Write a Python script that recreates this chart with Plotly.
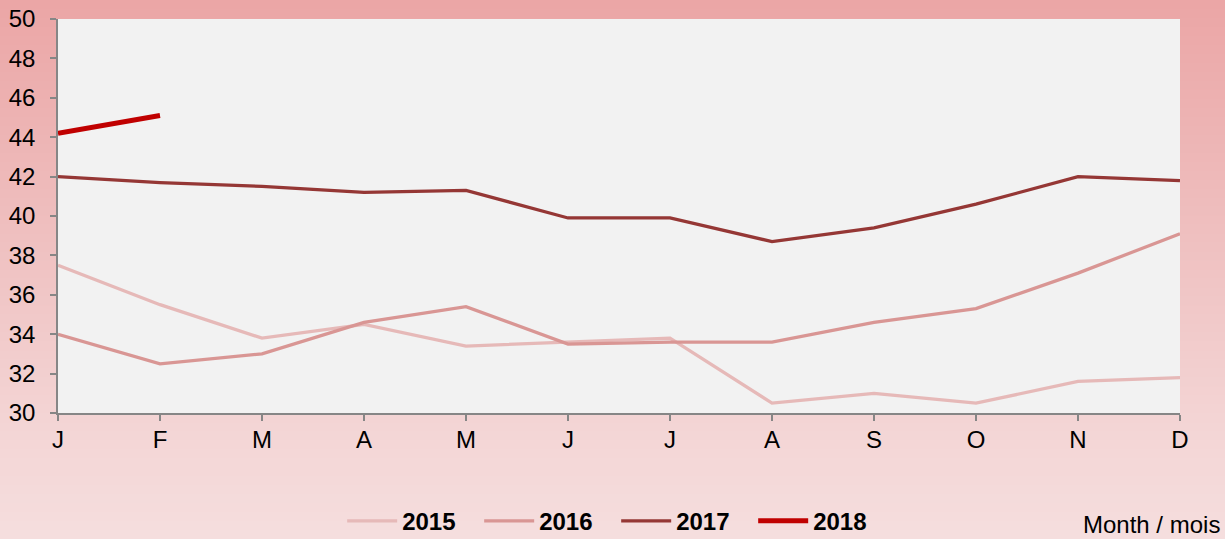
import plotly.graph_objects as go

months = ["J", "F", "M", "A", "M", "J", "J", "A", "S", "O", "N", "D"]
y2015 = [37.5, 35.5, 33.8, 34.5, 33.4, 33.6, 33.8, 30.5, 31.0, 30.5, 31.6, 31.8]
y2016 = [34.0, 32.5, 33.0, 34.6, 35.4, 33.5, 33.6, 33.6, 34.6, 35.3, 37.1, 39.1]
y2017 = [42.0, 41.7, 41.5, 41.2, 41.3, 39.9, 39.9, 38.7, 39.4, 40.6, 42.0, 41.8]
y2018 = [44.2, 45.1]

series = [
    ("2015", y2015, "#E6B9B8", 3.25),
    ("2016", y2016, "#D99694", 3.25),
    ("2017", y2017, "#953735", 3.25),
    ("2018", y2018, "#C00000", 5),
]

FONT = "Arial, Liberation Sans, sans-serif"
W, H = 1225, 539
ML, MR, MT, MB = 58, 45, 19, 126
PW, PH = W - ML - MR, H - MT - MB

fig = go.Figure()
for name, vals, color, width in series:
    fig.add_trace(go.Scatter(
        x=list(range(len(vals))), y=vals, name=name, mode="lines",
        line=dict(color=color, width=width),
    ))

def lerp(a, b, t):
    return tuple(int(round(a[i] + (b[i] - a[i]) * t)) for i in range(3))

stops = [(0.0, (235, 166, 166)), (0.45, (239, 192, 192)), (0.75, (243, 211, 211)), (1.0, (245, 222, 222))]
def grad(t):
    for (t0, c0), (t1, c1) in zip(stops, stops[1:]):
        if t <= t1:
            return lerp(c0, c1, (t - t0) / (t1 - t0))
    return stops[-1][1]

shapes = []
N = 60
x0 = -ML / PW - 0.01
x1 = 1 + MR / PW + 0.01
for i in range(N):
    top_px = H * i / N - (2 if i == 0 else 0)
    bot_px = H * (i + 1) / N + (1 if i < N - 1 else 3)
    c = grad((i + 0.5) / N)
    shapes.append(dict(
        type="rect", xref="paper", yref="paper", layer="below",
        x0=x0, x1=x1,
        y0=1 - (bot_px - MT) / PH, y1=1 - (top_px - MT) / PH,
        fillcolor="rgb(%d,%d,%d)" % c, line=dict(width=0),
    ))
shapes.append(dict(
    type="rect", xref="paper", yref="paper", layer="below",
    x0=0, x1=1, y0=0, y1=1, fillcolor="#F2F2F2", line=dict(width=0),
))

fig.update_layout(
    width=W, height=H,
    margin=dict(l=ML, r=MR, t=MT, b=MB, autoexpand=False),
    paper_bgcolor="#F0C4C4",
    plot_bgcolor="#F2F2F2",
    shapes=shapes,
    font=dict(family=FONT, size=24, color="#000000"),
    showlegend=True,
    legend=dict(
        orientation="h", xref="container", yref="container",
        x=0.503, xanchor="center", y=0.033, yanchor="middle",
        font=dict(family=FONT, size=24, color="#000000", weight="bold"),
        bgcolor="rgba(0,0,0,0)", itemwidth=50,
        entrywidth=72, entrywidthmode="pixels",
    ),
    annotations=[dict(
        text="Month / mois", xref="paper", yref="paper",
        x=(1222 - ML) / PW, xanchor="right",
        y=(MT + PH - 524) / PH, yanchor="middle",
        showarrow=False, font=dict(family=FONT, size=24, color="#000000"),
    )],
)
fig.update_xaxes(
    range=[0, 11], tickmode="array", tickvals=list(range(12)), ticktext=months,
    showgrid=False, zeroline=False, showline=True, linecolor="#868686", linewidth=1.5,
    ticks="outside", ticklen=6, tickwidth=1.5, tickcolor="#868686",
    tickfont=dict(family=FONT, size=24, color="#000000"), automargin=False,
    ticklabelstandoff=-2,
)
fig.update_yaxes(
    range=[30, 50], dtick=2, tick0=30,
    showgrid=False, zeroline=False, showline=True, linecolor="#868686", linewidth=1.5,
    ticks="outside", ticklen=6, tickwidth=1.5, tickcolor="#868686",
    tickfont=dict(family=FONT, size=24, color="#000000"), automargin=False,
    ticklabelstandoff=10,
)

fig.write_html(
    "out.html",
    config={"displayModeBar": False},
    post_script="document.body.style.margin='0';document.body.style.overflow='hidden';",
)
